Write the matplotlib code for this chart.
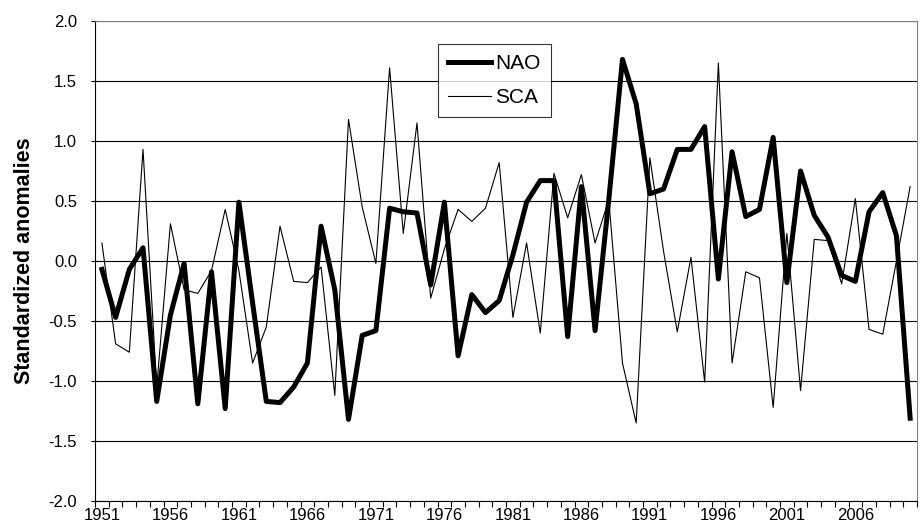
import numpy as np
import matplotlib
matplotlib.use("Agg")
import matplotlib.pyplot as plt
from matplotlib.ticker import FixedLocator, FormatStrFormatter

# ============================================================
# Data
# ============================================================

years = list(range(1951, 2011))

nao = [-0.07, -0.47, -0.07, 0.11, -1.17, -0.45, -0.02, -1.19, -0.09, -1.23,
       0.49, -0.35, -1.17, -1.18, -1.05, -0.85, 0.29, -0.24, -1.32, -0.62,
       -0.58, 0.44, 0.41, 0.40, -0.20, 0.49, -0.79, -0.28, -0.43, -0.33,
       0.05, 0.49, 0.67, 0.67, -0.63, 0.62, -0.58, 0.51, 1.68, 1.31,
       0.56, 0.60, 0.93, 0.93, 1.12, -0.15, 0.91, 0.37, 0.43, 1.03,
       -0.18, 0.75, 0.38, 0.20, -0.12, -0.17, 0.41, 0.57, 0.21, -1.31]

sca = [0.15, -0.69, -0.76, 0.93, -1.05, 0.31, -0.24, -0.27, -0.08, 0.43,
       -0.08, -0.85, -0.55, 0.29, -0.17, -0.18, -0.05, -1.12, 1.18, 0.45,
       -0.02, 1.61, 0.23, 1.15, -0.31, 0.10, 0.43, 0.33, 0.44, 0.82,
       -0.47, 0.15, -0.60, 0.73, 0.36, 0.72, 0.15, 0.51, -0.85, -1.35,
       0.86, 0.08, -0.59, 0.03, -1.01, 1.65, -0.85, -0.09, -0.14, -1.22,
       0.23, -1.08, 0.18, 0.17, -0.19, 0.52, -0.57, -0.61, 0.00, 0.62]

label_years = list(range(1951, 2011, 5))
y_ticks = [-2.0, -1.5, -1.0, -0.5, 0.0, 0.5, 1.0, 1.5, 2.0]

# ============================================================
# Plot
# ============================================================

plt.rcParams["font.family"] = ["Liberation Sans", "DejaVu Sans"]

fig = plt.figure(figsize=(9.23, 5.30), dpi=100)
ax = fig.add_axes([0.103, 0.0547, 0.8905, 0.9057])

ax.plot(years, nao, color="black", lw=3.6, label="NAO", zorder=3)
ax.plot(years, sca, color="black", lw=0.8, label="SCA", zorder=2)

ax.set_xlim(1950.5, 2010.5)
ax.set_ylim(-2.0, 2.0)

# category-style x axis: ticks between years, labels every 5 years
ax.xaxis.set_major_locator(FixedLocator(label_years))
ax.xaxis.set_minor_locator(FixedLocator(np.arange(1950.5, 2011, 1.0)))
ax.tick_params(axis="x", which="major", length=0, labelsize=12, pad=5)
ax.tick_params(axis="x", which="minor", length=4, direction="out", width=0.8)

ax.set_yticks(y_ticks)
ax.yaxis.set_major_formatter(FormatStrFormatter("%.1f"))
ax.tick_params(axis="y", length=6, direction="inout", width=0.8, labelsize=12, pad=10)

ax.grid(axis="y", color="black", lw=0.8)
ax.set_axisbelow(True)

for side in ["top", "right"]:
    ax.spines[side].set_color("#808080")
    ax.spines[side].set_linewidth(0.8)
for side in ["left", "bottom"]:
    ax.spines[side].set_color("black")
    ax.spines[side].set_linewidth(0.8)

ax.set_ylabel("Standardized anomalies", fontsize=15.5, fontweight="bold")
ax.yaxis.set_label_coords(-0.073, 0.5)

leg = ax.legend(loc="upper left", bbox_to_anchor=(0.417, 0.952), fontsize=15,
                frameon=True, fancybox=False, handlelength=2.07, handletextpad=0.2,
                borderpad=0.5, labelspacing=0.7, borderaxespad=0)
leg.get_frame().set_edgecolor("black")
leg.get_frame().set_linewidth(0.8)

fig.savefig("out.png", dpi=100)
